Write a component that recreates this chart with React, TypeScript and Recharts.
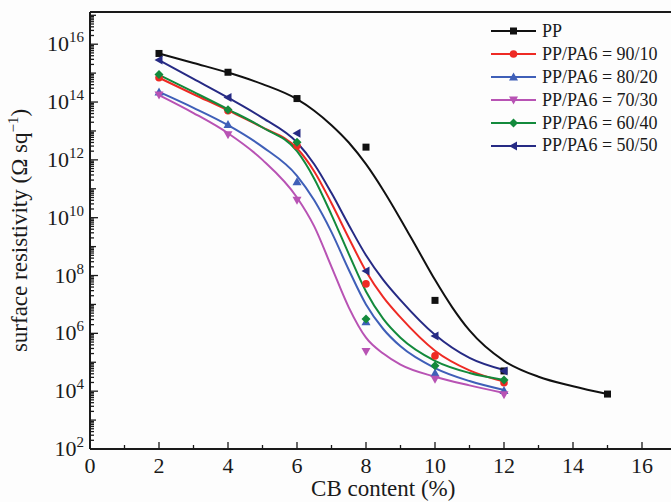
import React from "react";
import {
  ComposedChart,
  Line,
  Scatter,
  XAxis,
  YAxis,
  Legend,
  ReferenceLine,
  Label,
} from "recharts";

// measured points: CB content (%) and log10 of surface resistivity
const cbContent = [2, 4, 6, 8, 10, 12];
const ppContent = [2, 4, 6, 8, 10, 12, 15];

const ppLog = [15.68, 15.03, 14.12, 12.44, 7.14, 4.7, 3.9];
const pa90Log = [14.84, 13.7, 12.49, 7.71, 5.22, 4.29];
const pa80Log = [14.35, 13.22, 11.24, 6.4, 4.63, 4.02];
const pa70Log = [14.24, 12.87, 10.6, 5.37, 4.41, 3.88];
const pa60Log = [14.95, 13.73, 12.61, 6.5, 4.88, 4.39];
const pa50Log = [15.45, 14.16, 12.92, 8.16, 5.91, 4.7];

// fitted curves
const fitX = [2, 3, 4, 5, 6, 6.5, 7, 7.5, 8, 8.5, 9, 10, 11, 12];
const ppFitX = [2, 3, 4, 5, 6, 6.5, 7, 7.5, 8, 8.5, 9, 9.5, 10, 10.5, 11, 12, 13, 14, 15];

const ppFit = [15.68, 15.35, 15.02, 14.62, 14.1, 13.7, 13.2, 12.6, 11.85, 10.95, 9.95, 8.9, 7.85, 6.9, 6.1, 5.05, 4.5, 4.17, 3.9];
const pa90Fit = [14.84, 14.27, 13.71, 13.12, 12.4, 11.6, 10.5, 9.3, 8.15, 7.25, 6.55, 5.4, 4.72, 4.33];
const pa80Fit = [14.35, 13.8, 13.2, 12.45, 11.45, 10.6, 9.5, 8.2, 7.0, 6.15, 5.55, 4.8, 4.35, 4.04];
const pa70Fit = [14.24, 13.62, 12.92, 12.0, 10.7, 9.7, 8.3, 6.9, 5.85, 5.3, 4.92, 4.5, 4.2, 3.94];
const pa60Fit = [14.94, 14.35, 13.75, 13.12, 12.3, 11.35, 10.1, 8.75, 7.45, 6.5, 5.85, 5.05, 4.63, 4.39];
const pa50Fit = [15.45, 14.8, 14.15, 13.45, 12.6, 11.85, 10.85, 9.75, 8.7, 7.85, 7.15, 5.95, 5.15, 4.73];

const xTicks = [0, 1, 2, 3, 4, 5, 6, 7, 8, 9, 10, 11, 12, 13, 14, 15, 16];
const yDecades = [2, 3, 4, 5, 6, 7, 8, 9, 10, 11, 12, 13, 14, 15, 16];
const yMin = 1e2;
const yMax = 1.3e17;

const FONT = '"Liberation Serif", "Times New Roman", serif';
const INK = "#1a1a1a";

type Shape = "square" | "circle" | "triUp" | "triDown" | "diamond" | "triLeft";

const marker = (shape: Shape, cx: number, cy: number, color: string) => {
  switch (shape) {
    case "square":
      return <rect x={cx - 3.5} y={cy - 3.5} width={7} height={7} fill={color} />;
    case "circle":
      return <circle cx={cx} cy={cy} r={3.8} fill={color} />;
    case "triUp":
      return <path d={`M${cx},${cy - 4.5}L${cx + 4.5},${cy + 3.5}L${cx - 4.5},${cy + 3.5}Z`} fill={color} />;
    case "triDown":
      return <path d={`M${cx},${cy + 4.5}L${cx + 4.5},${cy - 3.5}L${cx - 4.5},${cy - 3.5}Z`} fill={color} />;
    case "diamond":
      return <path d={`M${cx},${cy - 4.5}L${cx + 4.5},${cy}L${cx},${cy + 4.5}L${cx - 4.5},${cy}Z`} fill={color} />;
    default:
      return <path d={`M${cx - 4.5},${cy}L${cx + 3.5},${cy - 4.5}L${cx + 3.5},${cy + 4.5}Z`} fill={color} />;
  }
};

const toRows = (xs: number[], logs: number[]) =>
  xs.map((x, i) => ({ x, y: Math.pow(10, logs[i]) }));

const series = [
  { name: "PP", color: "#111111", shape: "square" as Shape, pts: toRows(ppContent, ppLog), fit: toRows(ppFitX, ppFit) },
  { name: "PP/PA6 = 90/10", color: "#ee2a24", shape: "circle" as Shape, pts: toRows(cbContent, pa90Log), fit: toRows(fitX, pa90Fit) },
  { name: "PP/PA6 = 80/20", color: "#3f5fb8", shape: "triUp" as Shape, pts: toRows(cbContent, pa80Log), fit: toRows(fitX, pa80Fit) },
  { name: "PP/PA6 = 70/30", color: "#b853b4", shape: "triDown" as Shape, pts: toRows(cbContent, pa70Log), fit: toRows(fitX, pa70Fit) },
  { name: "PP/PA6 = 60/40", color: "#138a3c", shape: "diamond" as Shape, pts: toRows(cbContent, pa60Log), fit: toRows(fitX, pa60Fit) },
  { name: "PP/PA6 = 50/50", color: "#262a84", shape: "triLeft" as Shape, pts: toRows(cbContent, pa50Log), fit: toRows(fitX, pa50Fit) },
];

// log ticks: every k*10^n, labels only on even decades
const yTicks: number[] = [];
yDecades.forEach((n) => {
  for (let k = 1; k <= 9; k++) yTicks.push(k * Math.pow(10, n));
});
yTicks.push(1e17);

const YTick = ({ x, y, payload }: any) => {
  const v = payload.value as number;
  const e = Math.round(Math.log10(v));
  const decade = Math.abs(v / Math.pow(10, e) - 1) < 1e-6;
  const len = decade ? (e % 2 === 0 ? 8 : 6) : 4;
  return (
    <g>
      <line x1={x} x2={x + len} y1={y} y2={y} stroke={INK} strokeWidth={1.3} />
      {decade && e % 2 === 0 && e <= 16 && (
        <text x={x - 6} y={y + 7} textAnchor="end" fontSize={22} fill={INK} fontFamily={FONT}>
          10
          <tspan dy={-9} fontSize={15}>
            {e}
          </tspan>
        </text>
      )}
    </g>
  );
};

const XTick = ({ x, y, payload }: any) => {
  const v = payload.value as number;
  const major = v % 2 === 0;
  return (
    <g>
      <line x1={x} x2={x} y1={y} y2={y - (major ? 7 : 4)} stroke={INK} strokeWidth={1.3} />
      {major && (
        <text x={x} y={y + 24} textAnchor="middle" fontSize={22} fill={INK} fontFamily={FONT}>
          {v}
        </text>
      )}
    </g>
  );
};

const renderLegend = () => (
  <div style={{ fontFamily: FONT, fontSize: 18, color: INK }}>
    {series.map((s) => (
      <div key={s.name} style={{ display: "flex", alignItems: "center", height: 22.9 }}>
        <svg width={47} height={12} style={{ display: "block" }}>
          <line x1={1} x2={46} y1={6} y2={6} stroke={s.color} strokeWidth={2} />
          {marker(s.shape, 23.5, 6, s.color)}
        </svg>
        <span style={{ marginLeft: 5, whiteSpace: "nowrap" }}>{s.name}</span>
      </div>
    ))}
  </div>
);

export default function App() {
  return (
    <div
      style={{
        position: "absolute",
        left: 0,
        top: 0,
        width: 671,
        height: 502,
        overflow: "hidden",
        background: "#fdfdfd",
      }}
    >
      <ComposedChart width={690} height={502} margin={{ top: 12, right: 13.5, bottom: 0, left: 0 }}>
        <XAxis
          dataKey="x"
          type="number"
          domain={[0, 17]}
          ticks={xTicks}
          interval={0}
          height={53}
          tickSize={0}
          tickMargin={0}
          tick={<XTick />}
          axisLine={{ stroke: INK, strokeWidth: 2 }}
          tickLine={false}
          allowDataOverflow
        >
          <Label
            content={({ viewBox }: any) => (
              <text
                x={viewBox.x + viewBox.width / 2}
                y={viewBox.y + 47}
                textAnchor="middle"
                fontSize={23}
                fill={INK}
                fontFamily={FONT}
              >
                CB content (%)
              </text>
            )}
          />
        </XAxis>
        <YAxis
          type="number"
          scale="log"
          domain={[yMin, yMax]}
          ticks={yTicks}
          interval={0}
          width={90}
          tickSize={0}
          tickMargin={0}
          tick={<YTick />}
          axisLine={{ stroke: INK, strokeWidth: 2 }}
          tickLine={false}
          allowDataOverflow
        >
          <Label
            content={({ viewBox }: any) => (
              <text
                transform={`translate(${viewBox.x + 27} ${viewBox.y + viewBox.height / 2}) rotate(-90)`}
                textAnchor="middle"
                fontSize={23}
                fill={INK}
                fontFamily={FONT}
              >
                surface resistivity (Ω sq
                <tspan dy={-9} fontSize={15}>
                  −1
                </tspan>
                <tspan dy={9}>)</tspan>
              </text>
            )}
          />
        </YAxis>
        <ReferenceLine y={yMax} stroke={INK} strokeWidth={2} />
        <ReferenceLine x={17} stroke={INK} strokeWidth={2} />
        {series.map((s) => (
          <Line
            key={`fit-${s.name}`}
            data={s.fit}
            dataKey="y"
            type="monotoneX"
            stroke={s.color}
            strokeWidth={2}
            dot={false}
            activeDot={false}
            isAnimationActive={false}
            legendType="none"
          />
        ))}
        {series.map((s) => (
          <Scatter
            key={`pts-${s.name}`}
            data={s.pts}
            dataKey="y"
            fill={s.color}
            shape={(p: any) => marker(s.shape, p.cx, p.cy, s.color)}
            isAnimationActive={false}
            legendType="none"
          />
        ))}
        <Legend
          layout="vertical"
          align="center"
          verticalAlign="middle"
          wrapperStyle={{ left: 490, top: 20, width: 190 }}
          content={renderLegend}
        />
      </ComposedChart>
    </div>
  );
}
